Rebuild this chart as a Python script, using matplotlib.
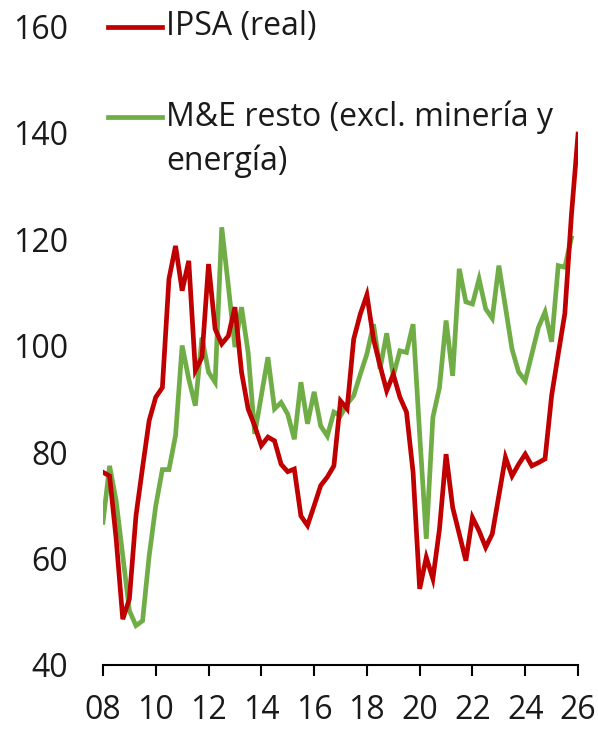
import numpy as np
import pandas as pd
import matplotlib
matplotlib.use("Agg")
import matplotlib.pyplot as plt
from matplotlib.lines import Line2D

plt.rcParams['font.family'] = ['Open Sans', 'DejaVu Sans']

# quarterly data, 2008Q1 onwards
red_label = "IPSA (real)"
green_label_1 = "M&E resto (excl. minería y"
green_label_2 = "energía)"

ipsa_real = [
    76.2, 75.5, 63.7, 48.6, 52.4, 68.0, 77.1, 85.9, 90.3, 92.1,
    112.5, 118.7, 110.3, 115.9, 95.3, 97.8, 115.3, 103.1, 100.3, 101.8,
    107.2, 95.0, 88.1, 84.9, 81.2, 82.8, 82.1, 77.7, 76.3, 76.8,
    68.0, 66.2, 69.9, 73.7, 75.3, 77.4, 89.6, 88.1, 101.2, 105.9,
    109.5, 101.2, 96.2, 91.5, 94.6, 90.3, 87.5, 76.2, 54.3, 60.2,
    56.2, 65.5, 79.6, 69.6, 64.6, 59.6, 67.7, 65.2, 62.1, 64.6,
    71.8, 79.0, 75.5, 77.7, 79.6, 77.4, 78.0, 78.7, 90.6, 98.4,
    106.0, 124.5, 139.7,
]
me_resto = [
    66.8, 77.4, 70.8, 60.5, 50.2, 47.4, 48.3, 60.5, 69.9, 76.7,
    76.7, 83.1, 100.0, 93.7, 88.7, 101.5, 95.0, 93.1, 122.2, 111.2,
    99.7, 107.2, 98.7, 83.4, 90.6, 97.8, 88.1, 89.3, 87.1, 82.4,
    93.1, 85.3, 91.3, 84.9, 83.0, 87.5, 86.8, 89.0, 90.6, 94.6,
    98.4, 104.0, 95.6, 102.3, 94.3, 99.0, 98.7, 104.0, 83.3, 63.7,
    86.5, 92.1, 104.7, 94.3, 114.4, 108.2, 107.8, 112.5, 106.9, 105.1,
    115.0, 107.2, 99.3, 95.0, 93.4, 98.4, 103.4, 106.3, 100.7, 115.0,
    114.7, 120.2,
]
year_ticks = [2008, 2010, 2012, 2014, 2016, 2018, 2020, 2022, 2024, 2026]
year_labels = ["08", "10", "12", "14", "16", "18", "20", "22", "24", "26"]

quarters = pd.period_range("2008Q1", periods=len(ipsa_real), freq="Q")
t = quarters.year + (quarters.quarter - 1) / 4.0
t_red = np.asarray(t, dtype=float)
t_green = t_red[:len(me_resto)]

RED = "#C00000"
GREEN = "#70AD47"
TXT = "#1a1a1a"

fig = plt.figure(figsize=(5.98, 7.29), dpi=100)
ax = fig.add_axes([0.1722, 0.0878, 0.7944, 0.8765])

ax.plot(t_red, ipsa_real, color=RED, lw=3.4, solid_joinstyle="miter", zorder=3)
ax.plot(t_green, me_resto, color=GREEN, lw=3.4, solid_joinstyle="miter", zorder=2)

ax.set_xlim(2008, 2026)
ax.set_ylim(40, 160)
ax.set_yticks([40, 60, 80, 100, 120, 140, 160])
ax.set_xticks(year_ticks)
ax.set_xticklabels(year_labels)

for s in ["top", "right", "left"]:
    ax.spines[s].set_visible(False)
ax.spines["bottom"].set_linewidth(1.5)
ax.spines["bottom"].set_color("black")

ax.tick_params(axis="x", direction="out", length=8, width=1.5, pad=13,
               labelsize=23, colors="black", labelcolor=TXT)
ax.tick_params(axis="y", length=0, pad=25, labelsize=23, labelcolor=TXT)

# legend drawn by hand, like the source chart
for y, col in [(0.9985, RED), (0.857, GREEN)]:
    ax.add_line(Line2D([0.0105, 0.124], [y, y], transform=ax.transAxes,
                       color=col, lw=3.4, clip_on=False))
ax.text(0.133, 0.9985, red_label, transform=ax.transAxes, fontsize=23,
        color=TXT, va="center", ha="left")
ax.text(0.133, 0.857, green_label_1, transform=ax.transAxes, fontsize=23,
        color=TXT, va="center", ha="left")
ax.text(0.133, 0.789, green_label_2, transform=ax.transAxes, fontsize=23,
        color=TXT, va="center", ha="left")

fig.savefig("out.png", dpi=100)
